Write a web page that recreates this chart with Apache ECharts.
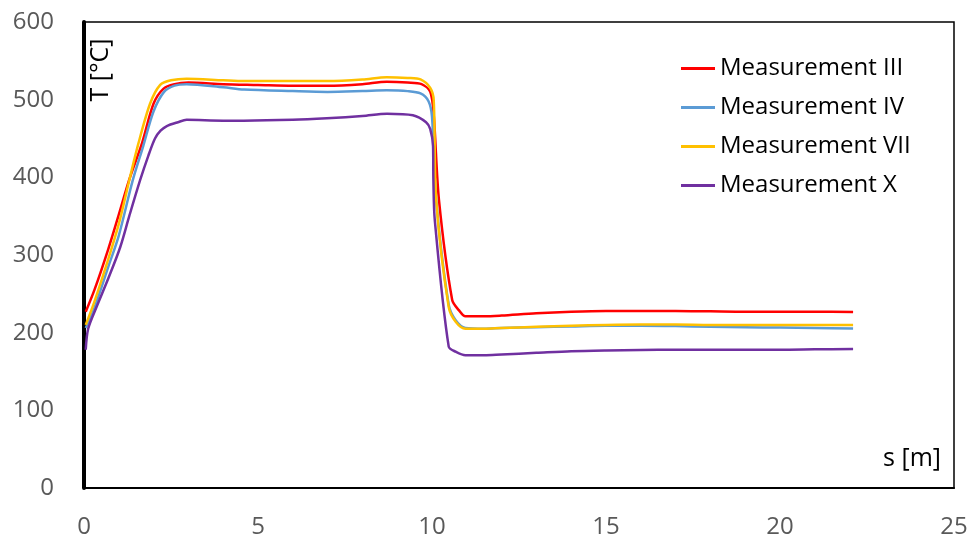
<!DOCTYPE html>
<html>
<head>
<meta charset="utf-8">
<script src="https://cdn.jsdelivr.net/npm/echarts@6/dist/echarts.min.js"></script>
<style>html,body{margin:0;padding:0;background:#fff;}#c{width:977px;height:540px;}</style>
</head>
<body>
<div id="c"></div>
<script>
const seriesNames = ['Measurement III', 'Measurement IV', 'Measurement VII', 'Measurement X'];
const xTicks = [0, 5, 10, 15, 20, 25];
const yTicks = [0, 100, 200, 300, 400, 500, 600];

const x3 = [0.05, 0.3, 0.7, 1.0, 1.3, 1.66, 2.0, 2.28, 2.6, 3.0, 4.0, 5.0, 6.0, 7.0, 8.0, 8.7, 9.3, 9.7, 9.95, 10.05, 10.2, 10.58, 10.77, 10.96, 11.5, 12, 13, 14, 15, 16, 17, 18, 19, 20, 21, 22.1];
const t3 = [227, 255, 308, 352, 397, 443, 495, 514, 520, 522, 520, 519, 518, 518, 520, 523, 522, 520, 510, 480, 371, 242, 229, 221, 221, 222, 225, 227, 228, 228, 228, 227.5, 227, 227, 227, 226.5];

const x4 = [0.05, 0.3, 0.7, 1.0, 1.4, 1.7, 2.0, 2.3, 2.6, 2.95, 4.0, 4.6, 6.0, 7.0, 8.0, 8.7, 9.3, 9.67, 9.9, 10.0, 10.12, 10.48, 10.68, 10.96, 11.5, 12, 13, 14, 15, 16, 17, 18, 19, 20, 21, 22.1];
const t4 = [206, 232, 285, 325, 396, 440, 485, 510, 518, 520, 516, 513, 511, 510, 511, 512, 511, 508, 498, 478, 371, 236, 216, 206, 205, 206, 207, 208, 209, 209, 208.5, 207.5, 207, 206.5, 206, 205.5];

const x7 = [0.05, 0.3, 0.7, 1.0, 1.3, 1.56, 1.9, 2.19, 2.5, 2.95, 4.0, 4.6, 6.0, 7.0, 8.0, 8.7, 9.3, 9.67, 9.95, 10.05, 10.12, 10.48, 10.68, 10.96, 11.5, 12, 13, 14, 15, 16, 17, 18, 19, 20, 21, 22.1];
const t7 = [210, 240, 295, 340, 396, 443, 495, 519, 525, 527, 525, 524, 524, 524, 526, 529, 528, 526, 515, 499, 371, 233, 214, 205, 205, 206, 207.5, 209, 210, 210.5, 210.5, 210, 210, 210, 210, 210];

const x10 = [0.05, 0.12, 0.36, 0.7, 1.04, 1.3, 1.61, 1.85, 2.04, 2.2, 2.38, 2.7, 2.95, 4.0, 4.59, 6.0, 6.98, 8.0, 8.71, 9.45, 9.83, 9.95, 10.03, 10.04, 10.08, 10.48, 10.68, 10.96, 11.5, 12, 13, 14, 15, 16, 17, 18, 19, 20, 21, 22.1];
const t10 = [178, 205, 233, 270, 310, 350, 396, 428, 450, 460, 466, 471, 474, 473, 473, 474, 476, 479, 482, 480, 471, 462, 440, 396, 345, 182, 175.5, 171, 171, 172, 174, 176, 177, 177.6, 178, 178, 178, 178, 178.5, 179];

const xs = [x3, x4, x7, x10];
const ts = [t3, t4, t7, t10];
const colors = ['#FF0000', '#5B9BD5', '#FFC000', '#7030A0'];

const FONT = 'Open Sans';
const chart = echarts.init(document.getElementById('c'), null, {renderer: 'canvas'});
chart.setOption({
  animation: false,
  backgroundColor: '#fff',
  grid: {left: 84, top: 22, right: 23, bottom: 52, show: true, borderColor: '#000', borderWidth: 1.5, backgroundColor: 'transparent'},
  xAxis: {
    type: 'value', min: xTicks[0], max: xTicks[xTicks.length - 1], interval: 5,
    axisLine: {show: true, onZero: false, lineStyle: {color: '#000', width: 2}},
    axisTick: {show: false}, splitLine: {show: false},
    axisLabel: {color: '#595959', fontFamily: FONT, fontSize: 24, margin: 27}
  },
  yAxis: {
    type: 'value', min: yTicks[0], max: yTicks[yTicks.length - 1], interval: 100,
    axisLine: {show: true, onZero: false, lineStyle: {color: '#000', width: 4}},
    axisTick: {show: false}, splitLine: {show: false},
    axisLabel: {color: '#595959', fontFamily: FONT, fontSize: 24, margin: 30}
  },
  legend: {
    orient: 'vertical', left: 681, top: 56, padding: 0, icon: 'rect', itemWidth: 34, itemHeight: 3, itemGap: 14,
    textStyle: {color: '#000', fontFamily: FONT, fontSize: 24, lineHeight: 25},
    data: seriesNames
  },
  graphic: [
    {type: 'text', x: 101, y: 70, rotation: Math.PI / 2,
     style: {text: 'T [°C]', fill: '#000', font: '25px "Open Sans"', align: 'center', verticalAlign: 'middle'}},
    {type: 'text', x: 941, y: 459,
     style: {text: 's [m]', fill: '#000', font: '25px "Open Sans"', align: 'right', verticalAlign: 'middle'}}
  ],
  series: seriesNames.map((n, i) => ({
    name: n, type: 'line', symbol: 'none', smooth: 0.3,
    lineStyle: {color: colors[i], width: 2.5}, itemStyle: {color: colors[i]},
    data: xs[i].map((x, j) => [x, ts[i][j]])
  }))
});
</script>
</body>
</html>
